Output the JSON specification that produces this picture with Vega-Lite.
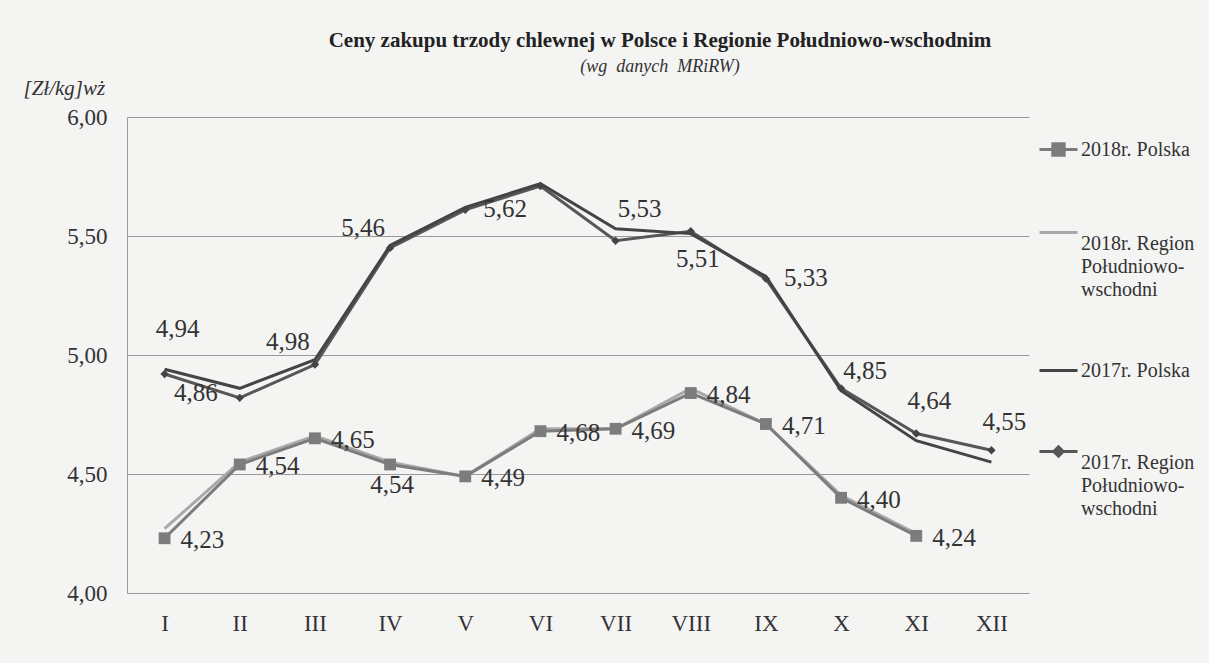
{
  "$schema": "https://vega.github.io/schema/vega-lite/v6.json",
  "width": 902,
  "height": 476,
  "autosize": {"type": "none"},
  "padding": {"left": 127, "top": 117, "right": 180, "bottom": 70},
  "background": "#f4f4f3",
  "config": {
    "locale": {"number": {"decimal": ",", "thousands": " ", "grouping": [3], "currency": ["", " zł"]}},
    "view": {"stroke": null},
    "font": "Liberation Serif"
  },
  "title": {
    "text": "Ceny zakupu trzody chlewnej w Polsce i Regionie Południowo-wschodnim",
    "subtitle": "(wg\u00a0\u00a0danych\u00a0\u00a0MRiRW)",
    "anchor": "middle",
    "dx": 82,
    "font": "Liberation Serif",
    "fontSize": 21,
    "fontWeight": "bold",
    "color": "#222222",
    "subtitleFont": "Liberation Serif",
    "subtitleFontSize": 18,
    "subtitleFontStyle": "italic",
    "subtitleColor": "#333333",
    "subtitlePadding": 7,
    "offset": 1
  },
  "data": {
    "values": [
      {"m": 1, "month": "I", "series": "2018r. Region Południowo-wschodni", "value": 4.27},
      {"m": 2, "month": "II", "series": "2018r. Region Południowo-wschodni", "value": 4.55},
      {"m": 3, "month": "III", "series": "2018r. Region Południowo-wschodni", "value": 4.66},
      {"m": 4, "month": "IV", "series": "2018r. Region Południowo-wschodni", "value": 4.55},
      {"m": 5, "month": "V", "series": "2018r. Region Południowo-wschodni", "value": 4.49},
      {"m": 6, "month": "VI", "series": "2018r. Region Południowo-wschodni", "value": 4.69},
      {"m": 7, "month": "VII", "series": "2018r. Region Południowo-wschodni", "value": 4.69},
      {"m": 8, "month": "VIII", "series": "2018r. Region Południowo-wschodni", "value": 4.86},
      {"m": 9, "month": "IX", "series": "2018r. Region Południowo-wschodni", "value": 4.71},
      {"m": 10, "month": "X", "series": "2018r. Region Południowo-wschodni", "value": 4.41},
      {"m": 11, "month": "XI", "series": "2018r. Region Południowo-wschodni", "value": 4.25},
      {"m": 1, "month": "I", "series": "2018r. Polska", "value": 4.23},
      {"m": 2, "month": "II", "series": "2018r. Polska", "value": 4.54},
      {"m": 3, "month": "III", "series": "2018r. Polska", "value": 4.65},
      {"m": 4, "month": "IV", "series": "2018r. Polska", "value": 4.54},
      {"m": 5, "month": "V", "series": "2018r. Polska", "value": 4.49},
      {"m": 6, "month": "VI", "series": "2018r. Polska", "value": 4.68},
      {"m": 7, "month": "VII", "series": "2018r. Polska", "value": 4.69},
      {"m": 8, "month": "VIII", "series": "2018r. Polska", "value": 4.84},
      {"m": 9, "month": "IX", "series": "2018r. Polska", "value": 4.71},
      {"m": 10, "month": "X", "series": "2018r. Polska", "value": 4.40},
      {"m": 11, "month": "XI", "series": "2018r. Polska", "value": 4.24},
      {"m": 1, "month": "I", "series": "2017r. Region Południowo-wschodni", "value": 4.92},
      {"m": 2, "month": "II", "series": "2017r. Region Południowo-wschodni", "value": 4.82},
      {"m": 3, "month": "III", "series": "2017r. Region Południowo-wschodni", "value": 4.96},
      {"m": 4, "month": "IV", "series": "2017r. Region Południowo-wschodni", "value": 5.45},
      {"m": 5, "month": "V", "series": "2017r. Region Południowo-wschodni", "value": 5.61},
      {"m": 6, "month": "VI", "series": "2017r. Region Południowo-wschodni", "value": 5.71},
      {"m": 7, "month": "VII", "series": "2017r. Region Południowo-wschodni", "value": 5.48},
      {"m": 8, "month": "VIII", "series": "2017r. Region Południowo-wschodni", "value": 5.52},
      {"m": 9, "month": "IX", "series": "2017r. Region Południowo-wschodni", "value": 5.32},
      {"m": 10, "month": "X", "series": "2017r. Region Południowo-wschodni", "value": 4.86},
      {"m": 11, "month": "XI", "series": "2017r. Region Południowo-wschodni", "value": 4.67},
      {"m": 12, "month": "XII", "series": "2017r. Region Południowo-wschodni", "value": 4.60},
      {"m": 1, "month": "I", "series": "2017r. Polska", "value": 4.94},
      {"m": 2, "month": "II", "series": "2017r. Polska", "value": 4.86},
      {"m": 3, "month": "III", "series": "2017r. Polska", "value": 4.98},
      {"m": 4, "month": "IV", "series": "2017r. Polska", "value": 5.46},
      {"m": 5, "month": "V", "series": "2017r. Polska", "value": 5.62},
      {"m": 6, "month": "VI", "series": "2017r. Polska", "value": 5.72},
      {"m": 7, "month": "VII", "series": "2017r. Polska", "value": 5.53},
      {"m": 8, "month": "VIII", "series": "2017r. Polska", "value": 5.51},
      {"m": 9, "month": "IX", "series": "2017r. Polska", "value": 5.33},
      {"m": 10, "month": "X", "series": "2017r. Polska", "value": 4.85},
      {"m": 11, "month": "XI", "series": "2017r. Polska", "value": 4.64},
      {"m": 12, "month": "XII", "series": "2017r. Polska", "value": 4.55}
    ]
  },
  "encoding": {
    "x": {
      "field": "month",
      "type": "ordinal",
      "sort": ["I", "II", "III", "IV", "V", "VI", "VII", "VIII", "IX", "X", "XI", "XII"],
      "scale": {"type": "point", "padding": 0.5},
      "axis": {
        "title": null,
        "labelAngle": 0,
        "labelFontSize": 23,
        "labelColor": "#333333",
        "labelFont": "Liberation Serif",
        "labelPadding": 19,
        "ticks": false,
        "domain": false,
        "grid": false
      }
    },
    "y": {
      "field": "value",
      "type": "quantitative",
      "scale": {"domain": [4, 6], "nice": false, "zero": false},
      "axis": {
        "title": "[Zł/kg]wż",
        "titleAngle": 0,
        "titleX": -104,
        "titleY": -29,
        "titleAlign": "left",
        "titleBaseline": "middle",
        "titleFont": "Liberation Serif",
        "titleFontStyle": "italic",
        "titleFontWeight": "normal",
        "titleFontSize": 21,
        "titleColor": "#333333",
        "values": [4, 4.5, 5, 5.5, 6],
        "format": ".2f",
        "labelFont": "Liberation Serif",
        "labelFontSize": 23,
        "labelColor": "#333333",
        "labelPadding": 20,
        "ticks": false,
        "domain": true,
        "domainColor": "#9a9a9a",
        "grid": true,
        "gridColor": "#9a9a9a",
        "gridWidth": 1
      }
    }
  },
  "layer": [
    {
      "mark": {"type": "line", "strokeWidth": 3},
      "encoding": {
        "order": {"field": "m", "type": "quantitative"},
        "color": {
          "field": "series",
          "type": "nominal",
          "scale": {
            "domain": ["2018r. Polska", "2018r. Region Południowo-wschodni", "2017r. Polska", "2017r. Region Południowo-wschodni"],
            "range": ["#7c7c7c", "#a9a9a9", "#444444", "#575757"]
          },
          "legend": {
            "orient": "none",
            "legendX": 911,
            "legendY": 12,
            "title": null,
            "padding": 0,
            "symbolSize": 1444,
            "symbolStrokeWidth": 3,
            "labelFont": "Liberation Serif",
            "labelFontSize": 20,
            "labelColor": "#333333",
            "labelOffset": 2,
            "labelLimit": 300,
            "rowPadding": 50,
            "labelExpr": "split(replace(replace(datum.label, ' Region ', ' Region|'), 'Południowo-', 'Południowo-|'), '|')",
            "encode": {
              "symbols": {
                "update": {
                  "shape": {"signal": "datum.value === '2018r. Polska' ? 'M-1,0H1M-0.3,-0.3H0.3V0.3H-0.3Z' : datum.value === '2017r. Region Południowo-wschodni' ? 'M-1,0H1M0,-0.25L0.25,0L0,0.25L-0.25,0Z' : 'M-1,0H1'"},
                  "fill": {"signal": "scale('color', datum.value)"},
                  "strokeWidth": {"value": 3}
                }
              },
              "labels": {
                "update": {
                  "lineHeight": {"value": 23},
                  "dy": {"signal": "indexof(datum.value, 'Region') >= 0 ? 11.5 : 0"}
                }
              }
            }
          }
        }
      }
    },
    {
      "transform": [{"filter": "datum.series === '2018r. Polska'"}],
      "mark": {"type": "point", "shape": "square", "filled": true, "size": 140, "color": "#7c7c7c", "opacity": 1}
    },
    {
      "transform": [{"filter": "datum.series === '2017r. Region Południowo-wschodni'"}],
      "mark": {"type": "point", "shape": "diamond", "filled": true, "size": 70, "color": "#444444", "opacity": 1}
    },
    {
      "transform": [{"filter": "datum.series === '2018r. Polska' && datum.month !== 'IV'"}],
      "mark": {"type": "text", "align": "left", "baseline": "middle", "dx": 16, "dy": 2, "fontSize": 25, "font": "Liberation Serif", "color": "#333333"},
      "encoding": {"text": {"field": "value", "type": "quantitative", "format": ".2f"}}
    },
    {
      "transform": [{"filter": "datum.series === '2018r. Polska' && datum.month === 'IV'"}],
      "mark": {"type": "text", "align": "center", "baseline": "middle", "dx": 2, "dy": 21, "fontSize": 25, "font": "Liberation Serif", "color": "#333333"},
      "encoding": {"text": {"field": "value", "type": "quantitative", "format": ".2f"}}
    },
    {
      "transform": [{"filter": {"and": [{"field": "series", "equal": "2017r. Polska"}, {"field": "month", "oneOf": ["I", "XI", "XII"]}]}}],
      "mark": {"type": "text", "align": "center", "baseline": "middle", "dx": 13, "dy": -40, "fontSize": 25, "font": "Liberation Serif", "color": "#333333"},
      "encoding": {"text": {"field": "value", "type": "quantitative", "format": ".2f"}}
    },
    {
      "transform": [{"filter": {"and": [{"field": "series", "equal": "2017r. Polska"}, {"field": "month", "oneOf": ["II"]}]}}],
      "mark": {"type": "text", "align": "right", "baseline": "middle", "dx": -22, "dy": 5, "fontSize": 25, "font": "Liberation Serif", "color": "#333333"},
      "encoding": {"text": {"field": "value", "type": "quantitative", "format": ".2f"}}
    },
    {
      "transform": [{"filter": {"and": [{"field": "series", "equal": "2017r. Polska"}, {"field": "month", "oneOf": ["III", "IV"]}]}}],
      "mark": {"type": "text", "align": "center", "baseline": "middle", "dx": -27, "dy": -18, "fontSize": 25, "font": "Liberation Serif", "color": "#333333"},
      "encoding": {"text": {"field": "value", "type": "quantitative", "format": ".2f"}}
    },
    {
      "transform": [{"filter": {"and": [{"field": "series", "equal": "2017r. Polska"}, {"field": "month", "oneOf": ["V", "IX"]}]}}],
      "mark": {"type": "text", "align": "left", "baseline": "middle", "dx": 18, "dy": 2, "fontSize": 25, "font": "Liberation Serif", "color": "#333333"},
      "encoding": {"text": {"field": "value", "type": "quantitative", "format": ".2f"}}
    },
    {
      "transform": [{"filter": {"and": [{"field": "series", "equal": "2017r. Polska"}, {"field": "month", "oneOf": ["VII", "X"]}]}}],
      "mark": {"type": "text", "align": "center", "baseline": "middle", "dx": 24, "dy": -20, "fontSize": 25, "font": "Liberation Serif", "color": "#333333"},
      "encoding": {"text": {"field": "value", "type": "quantitative", "format": ".2f"}}
    },
    {
      "transform": [{"filter": {"and": [{"field": "series", "equal": "2017r. Polska"}, {"field": "month", "oneOf": ["VIII"]}]}}],
      "mark": {"type": "text", "align": "center", "baseline": "middle", "dx": 7, "dy": 25, "fontSize": 25, "font": "Liberation Serif", "color": "#333333"},
      "encoding": {"text": {"field": "value", "type": "quantitative", "format": ".2f"}}
    }
  ]
}
